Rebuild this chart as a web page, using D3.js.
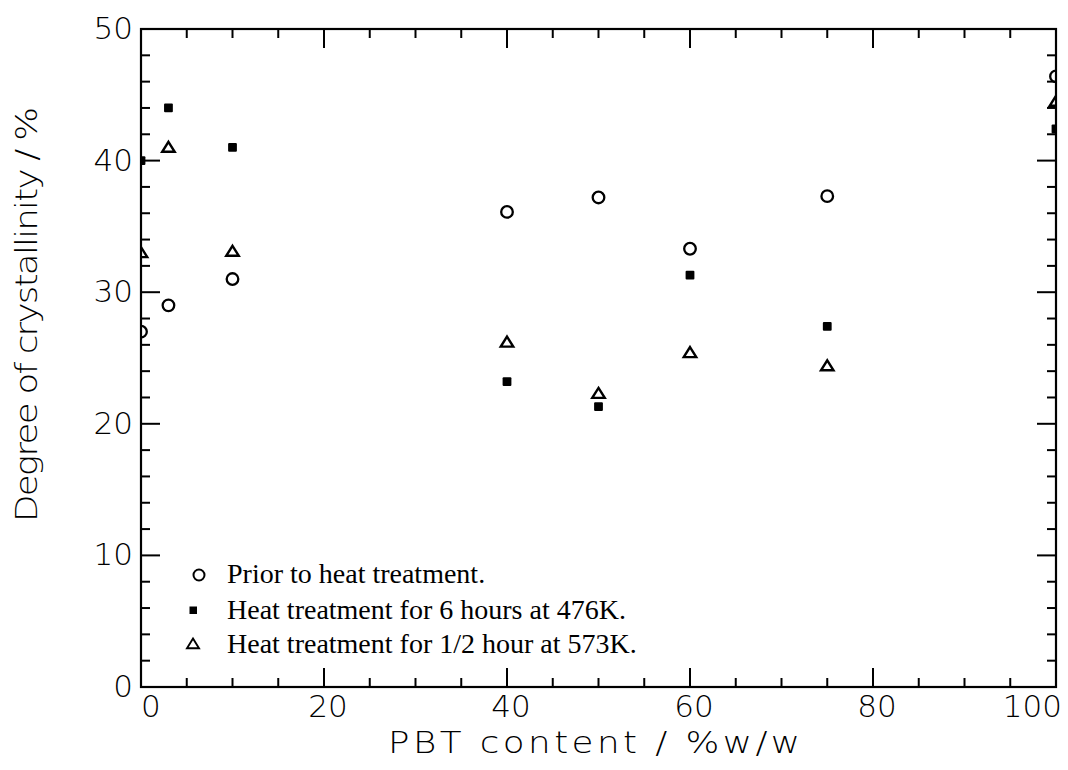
<!DOCTYPE html>
<html>
<head>
<meta charset="utf-8">
<script src="https://cdn.jsdelivr.net/npm/d3@7"></script>
<style>
  body { margin: 0; background: #fff; }
  svg { display: block; }
</style>
</head>
<body>
<div id="chart"></div>
<script>
// PBT content (% w/w)
const pbt = [0, 3, 10, 40, 50, 60, 75, 100];
// degree of crystallinity (%) per treatment
const prior = [27.0, 29.0, 31.0, 36.1, 37.2, 33.3, 37.3, 46.4];
const heat476 = [40.0, 44.0, 41.0, 23.2, 21.3, 31.3, 27.4, 42.4];
const heat573 = [33.0, 41.0, 33.1, 26.2, 22.3, 25.4, 24.4, 44.5];
const legendLabels = ["Prior to heat treatment.",
                      "Heat treatment for 6 hours at 476K.",
                      "Heat treatment for 1/2 hour at 573K."];
const xTicks = [0, 20, 40, 60, 80, 100];
const yTicks = [0, 10, 20, 30, 40, 50];

var width = 1068, height = 770;
var pLeft = 141, pRight = 1056, pTop = 29, pBottom = 687;

var svg = d3.select("#chart")
    .append("svg")
    .attr("width", width)
    .attr("height", height);

var x = d3.scaleLinear().domain([0, 100]).range([pLeft, pRight]);
var y = d3.scaleLinear().domain([0, 50]).range([pBottom, pTop]);

var tickFont = "'DejaVu Sans', sans-serif";

// ticks pointing inward, major ones longer
function tickLines(g, vals, maj, fn) {
  g.selectAll("line").data(vals).enter().append("line")
    .each(function (v) {
      var c = fn(v, (v % maj === 0) ? 19 : 9);
      d3.select(this).attr("x1", c[0]).attr("y1", c[1]).attr("x2", c[2]).attr("y2", c[3]);
    })
    .attr("stroke", "#000")
    .attr("stroke-width", 2);
}

var frame = svg.append("g");
var xMinor = d3.range(5, 100, 5);
var yMinor = d3.range(2, 50, 2);

tickLines(frame.append("g"), xMinor, 20, function (v, l) { return [x(v), pBottom, x(v), pBottom - l]; });
tickLines(frame.append("g"), xMinor, 20, function (v, l) { return [x(v), pTop, x(v), pTop + l]; });
tickLines(frame.append("g"), yMinor, 10, function (v, l) { return [pLeft, y(v), pLeft + l, y(v)]; });
tickLines(frame.append("g"), yMinor, 10, function (v, l) { return [pRight, y(v), pRight - l, y(v)]; });

frame.append("rect")
    .attr("x", pLeft).attr("y", pTop)
    .attr("width", pRight - pLeft).attr("height", pBottom - pTop)
    .attr("fill", "none").attr("stroke", "#000").attr("stroke-width", 2.2);

// tick labels
svg.append("g").selectAll("text").data(xTicks).enter().append("text")
    .attr("x", function (d, i) { return i === 0 ? x(d) : (i === xTicks.length - 1 ? x(d) + 6 : x(d) + 4); })
    .attr("y", 717)
    .attr("text-anchor", function (d, i) { return i === 0 ? "start" : (i === xTicks.length - 1 ? "end" : "middle"); })
    .attr("font-family", tickFont).attr("font-weight", 200)
    .attr("font-size", "31px")
    .attr("fill", "#000")
    .text(function (d) { return d; });

svg.append("g").selectAll("text").data(yTicks).enter().append("text")
    .attr("x", 133)
    .attr("y", function (d) { return y(d) + 10; })
    .attr("text-anchor", "end")
    .attr("font-family", tickFont).attr("font-weight", 200)
    .attr("font-size", "31px")
    .text(function (d) { return d; });

// axis titles (wide, thin lettering like the plotter font)
var sx = 1.15;
svg.append("text")
    .attr("transform", "translate(388,753) scale(" + sx + ",1)")
    .attr("textLength", 412 / sx).attr("lengthAdjust", "spacing")
    .attr("font-family", tickFont).attr("font-weight", 200)
    .attr("font-size", "31px")
    .text("PBT content / %w/w");

svg.append("text")
    .attr("transform", "translate(37,522) rotate(-90) scale(" + sx + ",1)")
    .attr("textLength", 415 / sx).attr("lengthAdjust", "spacing")
    .attr("font-family", tickFont).attr("font-weight", 200)
    .attr("font-size", "31px")
    .text("Degree of crystallinity / %");

// markers, clipped to the frame
svg.append("clipPath").attr("id", "plotclip")
    .append("rect").attr("x", pLeft).attr("y", pTop)
    .attr("width", pRight - pLeft).attr("height", pBottom - pTop);

var marks = svg.append("g").attr("clip-path", "url(#plotclip)");
var triangle = function (s) { return "M0," + (-s * 0.45) + "L" + (s / 2) + "," + (s * 0.35) + "L" + (-s / 2) + "," + (s * 0.35) + "Z"; };

marks.selectAll("circle").data(pbt).enter().append("circle")
    .attr("cx", function (d) { return x(d); })
    .attr("cy", function (d, i) { return y(prior[i]); })
    .attr("r", 5.8)
    .attr("fill", "none").attr("stroke", "#000").attr("stroke-width", 2.3);

marks.selectAll("rect.sq").data(pbt).enter().append("rect")
    .attr("class", "sq")
    .attr("x", function (d) { return x(d) - 4.4; })
    .attr("y", function (d, i) { return y(heat476[i]) - 4.4; })
    .attr("width", 8.8).attr("height", 8.8)
    .attr("rx", 1)
    .attr("fill", "#000");

marks.selectAll("path.tri").data(pbt).enter().append("path")
    .attr("class", "tri")
    .attr("transform", function (d, i) { return "translate(" + x(d) + "," + y(heat573[i]) + ")"; })
    .attr("d", triangle(12.5))
    .attr("fill", "none").attr("stroke", "#000").attr("stroke-width", 2.4)
    .attr("stroke-linejoin", "miter");

// legend
var legendY = [583, 619, 653];
var lg = svg.append("g");
lg.append("circle").attr("cx", 199).attr("cy", legendY[0] - 8).attr("r", 5.5)
    .attr("fill", "none").attr("stroke", "#000").attr("stroke-width", 2);
lg.append("rect").attr("x", 189.5).attr("y", legendY[1] - 12.5).attr("width", 7.5).attr("height", 7.5)
    .attr("fill", "#000");
lg.append("path").attr("transform", "translate(193," + (legendY[2] - 9) + ")")
    .attr("d", triangle(12))
    .attr("fill", "none").attr("stroke", "#000").attr("stroke-width", 1.9);

lg.selectAll("text").data(legendLabels).enter().append("text")
    .attr("x", 227)
    .attr("y", function (d, i) { return legendY[i]; })
    .attr("font-family", "'Liberation Serif', 'Times New Roman', serif")
    .attr("font-size", "28px")
    .text(function (d) { return d; });
</script>
</body>
</html>
